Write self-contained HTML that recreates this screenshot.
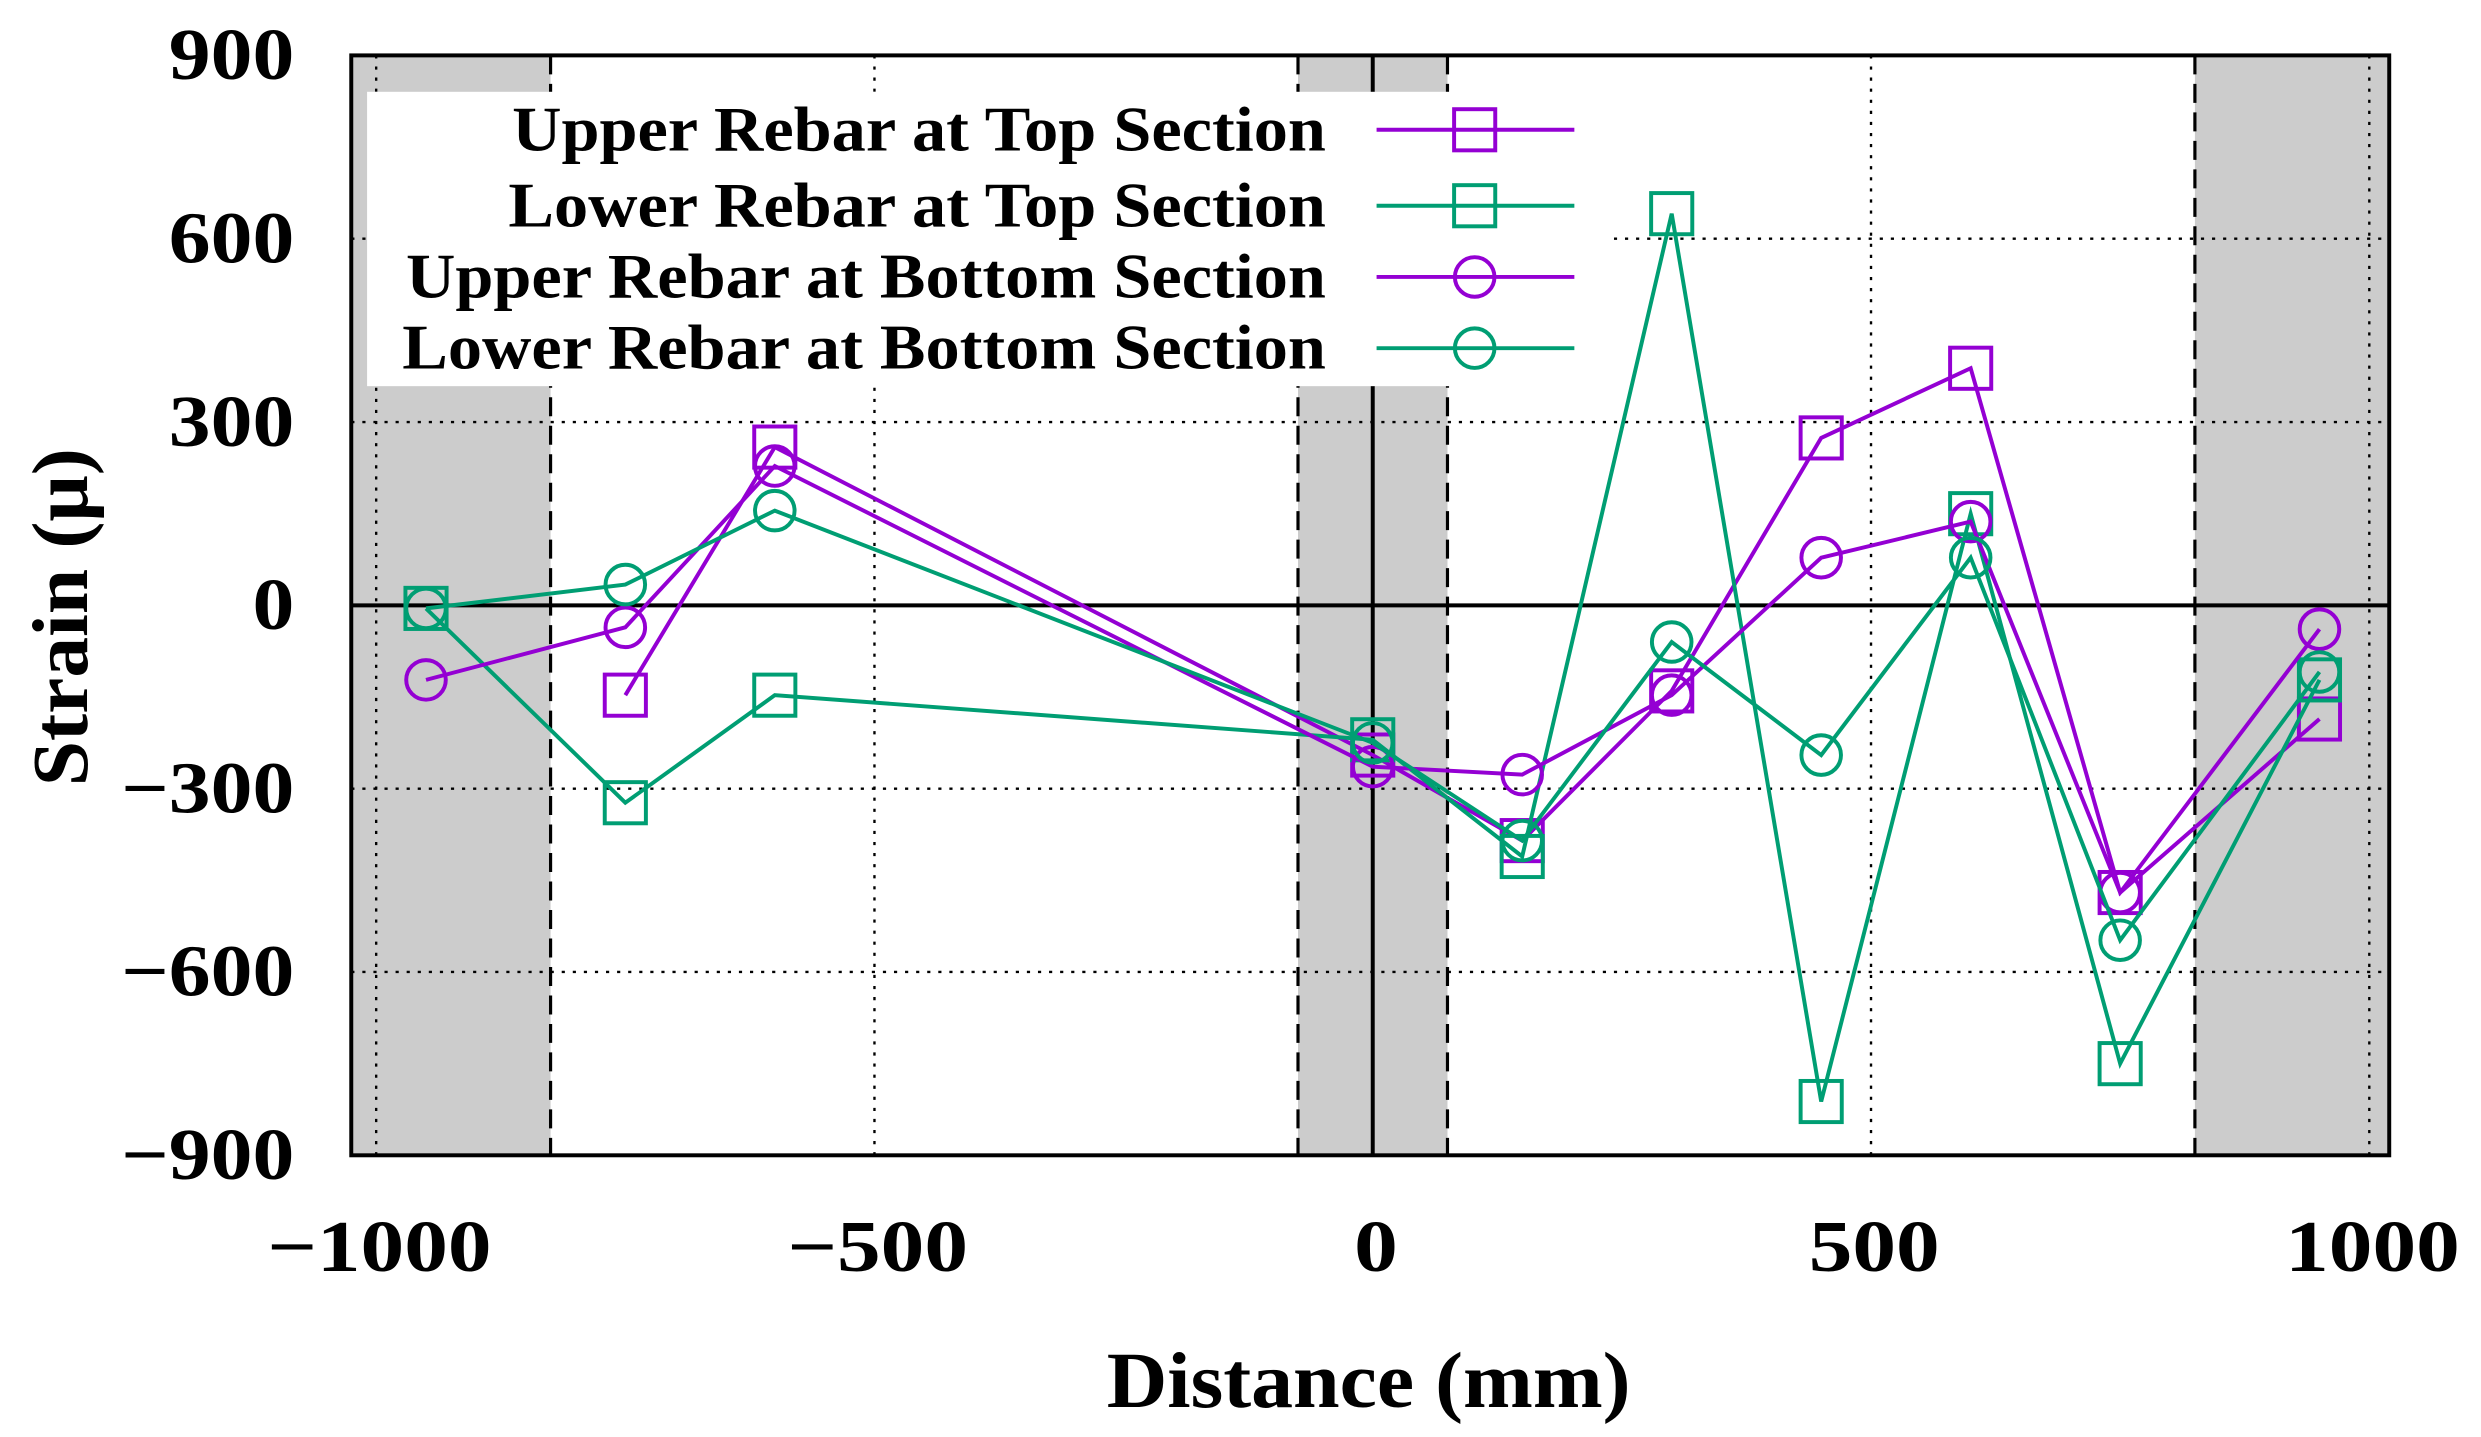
<!DOCTYPE html>
<html><head><meta charset="utf-8"><style>
html,body{margin:0;padding:0;background:#fff;}
svg{display:block;}
text{font-family:"Liberation Serif",serif;font-weight:bold;fill:#000;}
</style></head><body>
<svg id="chart" width="2481" height="1437" viewBox="0 0 1568 908" preserveAspectRatio="none" xmlns="http://www.w3.org/2000/svg">
<g id="shading"></g>
<g id="grid"></g>
<g id="legend-bg"></g>
<g id="series"></g>
<g id="axes"></g>
<g id="legend"></g>
</svg>
<script>
const xPositions = [-950, -750, -600, 0, 150, 300, 450, 600, 750, 950];
const upperTopX = [-750, -600, 0, 150, 300, 450, 600, 750, 950];
const upperTop = [-147, 259, -245, -385, -140, 274, 388, -470, -186];
const lowerTop = [-5, -323, -147, -220, -411, 641, -812, 150, -750, -122];
const upperBottom = [-122, -36, 228, -264, -277, -147, 78, 137, -470, -39];
const lowerBottom = [-5, 34, 155, -225, -385, -60, -245, 78, -548, -109];
const yTicks = [900, 600, 300, 0, -300, -600, -900];
const yTickLabels = ["900", "600", "300", "0", "\u2212300", "\u2212600", "\u2212900"];
const xTicks = [-1000, -500, 0, 500, 1000];
const xTickLabels = ["\u22121000", "\u2212500", "0", "500", "1000"];
const supportZones = [[-1025, -825], [-75, 75], [825, 1020]];
const legendLabels = ["Upper Rebar at Top Section", "Lower Rebar at Top Section", "Upper Rebar at Bottom Section", "Lower Rebar at Bottom Section"];

const PL = 222, PR = 1510, PT = 35, PB = 730;
const X0 = -1025, X1 = 1020;
const sx = v => PL + (v - X0) / (X1 - X0) * (PR - PL);
const sy = v => PB - (v + 900) / 1800 * (PB - PT);
const NS = "http://www.w3.org/2000/svg";
function mk(tag, attrs, parent) {
  const e = document.createElementNS(NS, tag);
  for (const k in attrs) e.setAttribute(k, attrs[k]);
  document.getElementById(parent).appendChild(e);
  return e;
}
const PURPLE = "#9400D3", GREEN = "#009E73";

supportZones.forEach((z, i) => {
  const r = mk("rect", {x: sx(z[0]), y: PT, width: sx(z[1]) - sx(z[0]), height: PB - PT, fill: "#cccccc"}, "shading");
  
  
  [z[0], z[1]].forEach(v => {
    if (v <= X0 || v >= X1) return;
    const l = mk("line", {x1: sx(v), x2: sx(v), y1: PT, y2: PB, stroke: "#000", "stroke-width": 2, "stroke-dasharray": "12,6"}, "shading");
    
    
  });
});
yTicks.forEach(v => {
  if (v === 0 || Math.abs(v) === 900) return;
  const l = mk("line", {x1: PL, x2: PR, y1: sy(v), y2: sy(v), stroke: "#000", "stroke-width": 1.5, "stroke-dasharray": "2,5"}, "grid");
  
  
});
xTicks.forEach(v => {
  if (v === 0) return;
  const l = mk("line", {x1: sx(v), x2: sx(v), y1: PT, y2: PB, stroke: "#000", "stroke-width": 1.5, "stroke-dasharray": "2,5"}, "grid");
  
  
});
let zl = mk("line", {x1: PL, x2: PR, y1: sy(0), y2: sy(0), stroke: "#000", "stroke-width": 2.5}, "grid");


zl = mk("line", {x1: sx(0), x2: sx(0), y1: PT, y2: PB, stroke: "#000", "stroke-width": 2.5}, "grid");



const lb = mk("rect", {x: 232, y: 58, width: 788, height: 186, fill: "#fff"}, "legend-bg");



function marker(shape, cx, cy, color, parent) {
  let m;
  if (shape === "sq") m = mk("rect", {x: cx - 13, y: cy - 13, width: 26, height: 26, fill: "none", stroke: color, "stroke-width": 2.5}, parent);
  else m = mk("circle", {cx: cx, cy: cy, r: 12.5, fill: "none", stroke: color, "stroke-width": 2.5}, parent);
  return m;
}
const series = [
  {name: "upper-top", xs: upperTopX, ys: upperTop, c: PURPLE, s: "sq"},
  {name: "lower-top", xs: xPositions, ys: lowerTop, c: GREEN, s: "sq"},
  {name: "upper-bottom", xs: xPositions, ys: upperBottom, c: PURPLE, s: "ci"},
  {name: "lower-bottom", xs: xPositions, ys: lowerBottom, c: GREEN, s: "ci"}
];
series.forEach(S => {
  const pts = S.ys.map((v, i) => sx(S.xs[i]) + "," + sy(v)).join(" ");
  const pl = mk("polyline", {points: pts, fill: "none", stroke: S.c, "stroke-width": 2.5}, "series");
  
  
  S.ys.forEach((v, i) => {
    const m = marker(S.s, sx(S.xs[i]), sy(v), S.c, "series");
    
    
  });
});

function txt(x, y, anchor, size, sxs, str, parent, extra) {
  const t = mk("text", {x: 0, y: 0, "text-anchor": anchor, "font-size": size, transform: "translate(" + x + "," + y + ")" + (extra || "") + " scale(" + sxs + ",1)"}, parent);
  t.textContent = str;
  return t;
}

const border = mk("rect", {x: PL, y: PT, width: PR - PL, height: PB - PT, fill: "none", stroke: "#000", "stroke-width": 2.5}, "axes");


yTicks.forEach((v, i) => {
  const t = txt(186, sy(v) + 15, "end", 46, 1.15, yTickLabels[i], "axes");
  
  
});
xTicks.forEach((v, i) => {
  const t = txt(sx(v) + 2, 803, "middle", 46, 1.2, xTickLabels[i], "axes");
  
  
});
let t = txt(865, 889, "middle", 50, 1.06, "Distance (mm)", "axes");


t = txt(55, 390, "middle", 50, 1.03, "Strain (\u03bc)", "axes", " rotate(-90)");



const legYs = [82, 130, 175, 220];
legendLabels.forEach((lab, i) => {
  const S = series[i];
  const tx = txt(838, legYs[i] + 13, "end", 40, 1.08, lab, "legend");
  
  
  const ln = mk("line", {x1: 870, x2: 995, y1: legYs[i], y2: legYs[i], stroke: S.c, "stroke-width": 2.5}, "legend");
  
  
  const m = marker(S.s, 932, legYs[i], S.c, "legend");
  
  
});
</script>
</body></html>
